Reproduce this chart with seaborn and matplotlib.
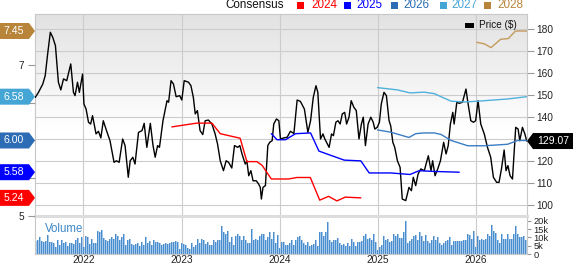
import numpy as np
import pandas as pd
import matplotlib
matplotlib.use("Agg")
import matplotlib.pyplot as plt
import matplotlib.transforms as mtransforms
from matplotlib.colors import LinearSegmentedColormap
from matplotlib.patches import Rectangle, Polygon
import seaborn as sns

# ---------------- data ----------------
price_dates = [
    "2021-07-06", "2021-07-18", "2021-08-03", "2021-08-12", "2021-08-21", "2021-08-31", "2021-09-09", "2021-09-19", "2021-09-30",
    "2021-10-09", "2021-10-19", "2021-10-31", "2021-11-15", "2021-11-25", "2021-12-01", "2021-12-10", "2021-12-17", "2021-12-29",
    "2022-01-03", "2022-01-11", "2022-01-20", "2022-01-28", "2022-02-04", "2022-02-17", "2022-02-26", "2022-03-07", "2022-03-16",
    "2022-03-28", "2022-04-10", "2022-04-25", "2022-05-04", "2022-05-14", "2022-05-27", "2022-06-05", "2022-06-17", "2022-06-24",
    "2022-07-04", "2022-07-12", "2022-07-25", "2022-08-07", "2022-08-15", "2022-08-25", "2022-09-07", "2022-09-17", "2022-09-25",
    "2022-10-04", "2022-10-11", "2022-10-24", "2022-11-08", "2022-11-14", "2022-11-23", "2022-12-02", "2022-12-12", "2022-12-25",
    "2023-01-02", "2023-01-11", "2023-01-27", "2023-02-05", "2023-02-14", "2023-02-21", "2023-03-01", "2023-03-11", "2023-03-21",
    "2023-03-30", "2023-04-11", "2023-04-24", "2023-05-06", "2023-05-15", "2023-05-25", "2023-06-06", "2023-06-16", "2023-06-25",
    "2023-07-07", "2023-07-17", "2023-07-29", "2023-08-06", "2023-08-14", "2023-08-26", "2023-09-01", "2023-09-08", "2023-09-16",
    "2023-09-24", "2023-10-06", "2023-10-15", "2023-10-21", "2023-10-25", "2023-10-31", "2023-11-09", "2023-11-18", "2023-11-25",
    "2023-12-04", "2023-12-10", "2023-12-20", "2023-12-29",
    "2024-01-04", "2024-01-17", "2024-01-29", "2024-02-10", "2024-02-23", "2024-03-06", "2024-03-18", "2024-04-02", "2024-04-15",
    "2024-04-25", "2024-05-05", "2024-05-15", "2024-05-22", "2024-06-01", "2024-06-10", "2024-06-17", "2024-07-03", "2024-07-12",
    "2024-07-19", "2024-07-28", "2024-08-05", "2024-08-13", "2024-08-21", "2024-08-30", "2024-09-06", "2024-09-15", "2024-09-23",
    "2024-10-03", "2024-10-12", "2024-10-22", "2024-10-31", "2024-11-07", "2024-11-15", "2024-11-25", "2024-12-05", "2024-12-14",
    "2024-12-20", "2024-12-29",
    "2025-01-06", "2025-01-13", "2025-01-23", "2025-02-01", "2025-02-11", "2025-02-17", "2025-02-25", "2025-03-04", "2025-03-14",
    "2025-03-24", "2025-04-01", "2025-04-14", "2025-04-26", "2025-05-05", "2025-05-12", "2025-05-21", "2025-05-30", "2025-06-09",
    "2025-06-22", "2025-07-07", "2025-07-17", "2025-07-23", "2025-08-01", "2025-08-11", "2025-08-21", "2025-09-02", "2025-09-11",
    "2025-09-19", "2025-09-27", "2025-10-06", "2025-10-11", "2025-10-21", "2025-10-30", "2025-11-11", "2025-11-24", "2025-12-02",
    "2025-12-12", "2025-12-22", "2025-12-30",
    "2026-01-08", "2026-01-18", "2026-01-31", "2026-02-12", "2026-02-24", "2026-03-06", "2026-03-18", "2026-03-27", "2026-04-05",
    "2026-04-15", "2026-04-22", "2026-04-29", "2026-05-07", "2026-05-16", "2026-05-28", "2026-06-06", "2026-06-12", "2026-06-22",
    "2026-07-01", "2026-07-08",
]
price_values = [
    148.9, 151.2, 155.0, 158.8, 168.6, 178.5, 176.2, 172.4, 155.8,
    152.3, 157.3, 156.5, 164.1, 151.2, 149.7, 155.8, 151.2, 159.5,
    145.9, 143.6, 137.6, 136.8, 140.6, 132.3, 133.5, 130.5, 138.3,
    133.8, 129.2, 119.4, 120.1, 119.4, 130.0, 127.0, 112.6, 120.1,
    121.7, 118.6, 133.0, 133.8, 137.1, 126.2, 137.1, 127.0, 121.7,
    127.0, 126.2, 138.3, 147.4, 146.7, 156.5, 155.0, 149.2, 149.7,
    147.7, 156.5, 155.8, 154.2, 148.9, 141.4, 142.9, 133.8, 132.0,
    138.3, 138.6, 136.8, 132.3, 127.7, 120.1, 115.6, 120.1, 119.4,
    116.8, 127.0, 126.2, 127.0, 123.2, 118.6, 120.1, 113.3, 115.6,
    111.0, 111.0, 109.5, 108.0, 102.7, 108.0, 108.8, 127.0, 128.5,
    129.2, 136.8, 139.1, 138.3,
    130.0, 130.5, 130.8, 133.5, 132.5, 147.7, 147.1, 143.6, 133.0,
    138.3, 148.9, 154.2, 151.2, 130.0, 132.3, 130.0, 126.2, 132.3,
    131.5, 137.6, 138.3, 136.8, 141.4, 142.1, 136.8, 139.9, 147.4,
    144.4, 142.9, 130.0, 136.8, 139.9, 127.0, 136.8, 139.9, 137.6,
    134.5, 135.3,
    137.6, 145.9, 151.2, 149.7, 138.3, 136.0, 128.5, 126.2, 120.1,
    117.1, 102.7, 102.0, 108.0, 106.5, 112.6, 108.8, 114.1, 116.4,
    115.6, 122.4, 115.6, 120.1, 113.3, 116.4, 120.1, 128.5, 123.2,
    127.0, 136.8, 142.1, 136.8, 146.7, 146.2, 146.7, 152.7, 145.9,
    138.3, 137.6, 138.3,
    147.4, 136.8, 132.3, 126.2, 121.7, 112.6, 110.3, 110.3, 116.4,
    125.0, 115.6, 117.9, 113.3, 111.8, 135.3, 134.5, 129.2, 135.3,
    132.3, 129.07,
]

eps24_dates = ["2022-11-26", "2023-02-27", "2023-04-24", "2023-05-25", "2023-07-01", "2023-08-07", "2023-09-01", "2023-10-08",
               "2023-10-28", "2023-12-01", "2024-02-03", "2024-03-05", "2024-04-24", "2024-05-29", "2024-07-01", "2024-08-01",
               "2024-09-01", "2024-10-29"]
eps24 = [6.18, 6.23, 6.23, 6.09, 6.06, 6.03, 5.72, 5.72, 5.67, 5.49, 5.49, 5.51, 5.51, 5.21, 5.26, 5.20, 5.25, 5.24]

eps25_dates = ["2023-12-01", "2023-12-22", "2024-01-23", "2024-02-29", "2024-04-25", "2024-05-26", "2024-06-26", "2024-08-28",
               "2024-10-29", "2024-11-29", "2025-02-17", "2025-04-30", "2025-06-03", "2025-07-30", "2025-10-30"]
eps25 = [6.09, 6.01, 6.01, 6.09, 6.10, 5.86, 5.82, 5.74, 5.73, 5.57, 5.57, 5.55, 5.60, 5.59, 5.58]

eps26_dates = ["2024-12-30", "2025-02-17", "2025-04-26", "2025-05-21", "2025-06-21", "2025-07-30", "2025-08-23", "2025-09-30",
               "2025-12-01", "2026-01-31", "2026-04-28", "2026-06-04", "2026-07-08"]
eps26 = [6.14, 6.11, 6.04, 6.09, 6.10, 6.10, 6.08, 6.00, 5.93, 5.93, 5.95, 6.00, 6.00]

eps27_dates = ["2024-12-30", "2025-03-14", "2025-04-30", "2025-06-21", "2025-07-30", "2025-08-23", "2025-09-30", "2025-11-18",
               "2026-01-07", "2026-04-28", "2026-07-08"]
eps27 = [6.70, 6.67, 6.63, 6.64, 6.62, 6.58, 6.52, 6.51, 6.52, 6.55, 6.58]

eps28_dates = ["2026-01-03", "2026-01-31", "2026-02-25", "2026-04-02", "2026-05-01", "2026-05-27", "2026-07-08"]
eps28 = [7.30, 7.28, 7.23, 7.34, 7.35, 7.45, 7.45]

# weekly volume (thousands)
vol_2021 = [7.6, 8.2, 10.2, 7.6, 7.0, 7.6, 11.6, 7.0, 7.0, 6.6, 4.2, 8.6, 5.6, 8.2, 6.6, 7.0, 5.0, 6.6, 6.6, 5.8, 8.2, 9.8, 6.6,
            10.2, 4.2]
vol_2022 = [10.6, 10.2, 6.2, 9.0, 6.6, 6.6, 13.6, 13.0, 14.6, 9.6, 8.6, 7.6, 9.0, 10.2, 9.0, 12.2, 11.0, 8.2, 10.2, 12.2, 5.4,
            8.6, 9.0, 6.2, 5.6, 6.2, 6.6, 5.0, 7.0, 5.6, 10.2, 6.6, 7.6, 5.6, 8.6, 7.0, 7.0, 6.6, 5.4, 6.2, 6.6, 5.8, 6.6, 7.0,
            7.4, 7.6, 7.0, 3.0, 6.6]
vol_2023 = [6.2, 5.6, 3.6, 3.0, 6.6, 4.2, 5.6, 9.0, 6.6, 9.0, 8.6, 5.8, 7.0, 5.4, 5.6, 8.6, 7.0, 8.2, 8.2, 16.6, 13.0, 12.2,
            13.6, 7.0, 10.2, 5.6, 10.6, 12.2, 11.0, 8.6, 10.6, 8.2, 6.6, 6.6, 15.0, 8.2, 9.0, 8.2, 11.0, 12.2, 12.2, 8.6, 10.2,
            13.0, 9.0, 13.0, 6.6, 11.6, 3.6]
vol_2024 = [7.0, 7.0, 5.6, 5.6, 6.6, 8.2, 5.6, 8.2, 10.2, 10.6, 8.6, 6.6, 5.6, 7.0, 5.0, 5.6, 6.2, 8.2, 4.6, 13.0, 13.0, 10.6,
            13.0, 19.0, 8.2, 7.0, 8.2, 8.6, 9.6, 6.6, 5.6, 6.2, 5.0, 6.6, 5.0, 9.0, 7.0, 5.0, 7.0, 7.4, 7.6, 10.6, 12.2, 9.0,
            9.6, 8.2, 12.2, 7.0, 2.6]
vol_2025 = [4.2, 5.6, 11.0, 8.6, 9.0, 7.0, 7.6, 12.2, 10.6, 12.2, 9.6, 9.6, 13.0, 19.6, 6.6, 7.6, 9.0, 10.6, 11.6, 8.6, 13.0,
            10.6, 7.6, 11.6, 7.6, 6.6, 8.6, 10.6, 8.2, 10.2, 6.6, 5.6, 6.6, 7.6, 8.6, 10.2, 5.6, 7.6, 7.6, 7.6, 7.6, 7.6, 8.2,
            8.6, 12.2, 11.6, 9.0, 13.6, 4.2]
vol_2026 = [11.0, 8.6, 9.0, 8.6, 9.0, 12.2, 10.6, 17.6, 13.6, 12.6, 8.6, 6.6, 12.2, 9.0, 9.0, 12.2, 9.0, 9.0, 12.2, 17.0, 12.2,
            10.2, 10.2, 11.0, 8.2]

years = ["2022", "2023", "2024", "2025", "2026"]
price_ticks = [100, 110, 120, 130, 140, 150, 160, 170, 180]
price_tick_labels = ["100", "110", "120", "", "140", "150", "160", "170", "180"]   # 130 sits under the last-price flag
eps_ticks = [5, 5.5, 6, 6.5, 7]
eps_tick_labels = ["5", "", "", "", "7"]   # the others sit under the consensus flags
vol_ticks = [0, 5000, 10000, 15000, 20000]
vol_tick_labels = ["0", "5k", "10k", "15k", "20k"]
last_price = 129.07
legend_years = ["2024", "2025", "2026", "2027", "2028"]

# ---------------- style ----------------
C24, C25, C26, C27, C28 = "#ff0000", "#0000ff", "#2b6cb4", "#45a5d5", "#b8843a"
L26, L27, L28 = "#3a7cc4", "#4fb0dc", "#c59a5c"

sns.set_style("white")
plt.rcParams["font.family"] = ["Liberation Sans", "DejaVu Sans"]

W, H = 573, 264
fig = plt.figure(figsize=(W / 100, H / 100), dpi=100)


def fx(px):
    return px / W


def fy(py):
    return 1 - py / H


Lp, Rp, Tp, Bp = 35, 527, 14, 216
Tv, Bv = 218, 254

# gradient background
bg = fig.add_axes([fx(Lp), fy(Bp), (Rp - Lp) / W, (Bp - Tp) / H], zorder=-1)
cmap = LinearSegmentedColormap.from_list("bg", [(0, "#ffffff"), (0.43, "#ffffff"), (1.0, "#e2e2e2")])
bg.imshow(np.linspace(0, 1, 256)[:, None], extent=[0, 1, 0, 1], cmap=cmap, aspect="auto", origin="lower")
bg.axis("off")

ax = fig.add_axes([fx(Lp), fy(Bp), (Rp - Lp) / W, (Bp - Tp) / H])
ax.patch.set_visible(False)
axv = fig.add_axes([fx(Lp), fy(Bv), (Rp - Lp) / W, (Bv - Tv) / H])

xmin, xmax = pd.Timestamp("2021-07-05"), pd.Timestamp("2026-07-09")
year_ticks = pd.to_datetime([y + "-01-01" for y in years])

# price
sns.lineplot(x=pd.to_datetime(price_dates), y=price_values, ax=ax, color="black", linewidth=1.0, zorder=3)

# consensus EPS (twin axis, left side)
axe = ax.twinx()
for d, v, c in [(eps24_dates, eps24, C24), (eps25_dates, eps25, C25), (eps26_dates, eps26, L26),
                (eps27_dates, eps27, L27), (eps28_dates, eps28, L28)]:
    sns.lineplot(x=pd.to_datetime(d), y=v, ax=axe, color=c, linewidth=1.0)

ax.set_xlim(xmin, xmax)
ax.set_ylim(95, 186.8)
ax.yaxis.set_ticks_position("right")
ax.yaxis.set_label_position("right")
ax.set_yticks(price_ticks)
ax.set_yticklabels(price_tick_labels)
ax.set_xticks(year_ticks)
ax.tick_params(axis="x", length=0, labelbottom=False)
ax.tick_params(axis="y", right=True, left=False, labelright=True, labelleft=False, length=5, width=0.8,
               color="#999999", labelsize=7.3, labelcolor="#222222", pad=1.5)
ax.grid(True, color="#cccccc", linewidth=0.8)
ax.set_axisbelow(True)
ax.set_xlabel("")
ax.set_ylabel("")
for s in ax.spines.values():
    s.set_color("#c8c8c8")
    s.set_linewidth(0.8)
ax.spines["bottom"].set_color("#dddddd")
ax.spines["bottom"].set_linewidth(2.2)

axe.set_xlim(xmin, xmax)
axe.set_ylim(5.0, 7.675)
axe.yaxis.set_ticks_position("left")
axe.yaxis.set_label_position("left")
axe.set_yticks(eps_ticks)
axe.set_yticklabels(eps_tick_labels)
axe.tick_params(axis="y", left=True, right=False, labelleft=True, labelright=False, length=5, width=0.8,
                color="#999999", labelsize=7.3, labelcolor="#222222", pad=2.5)
axe.set_xlabel("")
axe.set_ylabel("")
for s in axe.spines.values():
    s.set_visible(False)

# volume
vol_k = np.array(vol_2021 + vol_2022 + vol_2023 + vol_2024 + vol_2025 + vol_2026)
vol_dates = pd.date_range("2021-07-08", "2026-07-05", periods=len(vol_k))
step = (vol_dates[1] - vol_dates[0]).total_seconds() / 86400
axv.bar(vol_dates, vol_k * 1000, width=step, color="#a6c9eb", linewidth=0, align="center")
axv.bar(vol_dates - pd.Timedelta(days=step / 2), vol_k * 1000, width=step * 0.5, color="#4a8dcd",
        linewidth=0, align="edge")
axv.set_xlim(xmin, xmax)
axv.set_ylim(0, 21700)
axv.yaxis.tick_right()
axv.set_yticks(vol_ticks)
axv.set_yticklabels(vol_tick_labels)
axv.set_xticks(year_ticks)
axv.set_xticklabels(years)
axv.tick_params(axis="x", length=0, labelsize=7.3, labelcolor="#222222", pad=0.8)
axv.tick_params(axis="y", right=True, left=False, length=3, width=0.8, color="#999999", labelsize=6.7,
                labelcolor="#222222", pad=1.5)
axv.grid(True, axis="x", color="#cccccc", linewidth=0.8)
axv.grid(False, axis="y")
axv.set_axisbelow(True)
for s in axv.spines.values():
    s.set_color("#c8c8c8")
    s.set_linewidth(0.8)
axv.spines["top"].set_visible(False)
fig.text(fx(45), fy(229), "Volume", color="#3d88c8", fontsize=8.3, ha="left", va="center")

# top legend
fig.text(fx(225), fy(5.5), "Consensus", color="#111111", fontsize=8.4, ha="left", va="center")
sq_x = [297, 344, 391, 440, 484]
tx_x = [311, 356, 403, 451, 497]
for yr, c, sx, tx in zip(legend_years, [C24, C25, C26, C27, C28], sq_x, tx_x):
    fig.add_artist(Rectangle((fx(sx), fy(9)), 7 / W, 7 / H, transform=fig.transFigure, color=c, lw=0))
    fig.text(fx(tx), fy(5.5), yr, color=c, fontsize=8.4, ha="left", va="center")

# price legend inside
fig.add_artist(Rectangle((fx(465), fy(27.5)), 9 / W, 5 / H, transform=fig.transFigure, color="black", lw=0))
fig.text(fx(479), fy(25.5), "Price ($)", color="#111111", fontsize=7.2, ha="left", va="center")

# value flags
fig.canvas.draw()
ident = mtransforms.IdentityTransform()
for val, c in [(eps28[-1], C28), (eps27[-1], C27), (eps26[-1], C26), (eps25[-1], C25), (eps24[-1], C24)]:
    yc = axe.transData.transform((0, val))[1]
    poly = Polygon([(0, yc - 8), (29, yc - 8), (35, yc), (29, yc + 8), (0, yc + 8)], closed=True,
                   transform=ident, facecolor=c, edgecolor="none", zorder=20)
    fig.add_artist(poly)
    fig.text(fx(14), yc / H, f"{val:.2f}", color="white", fontsize=7.6, ha="center", va="center", zorder=21)

yc = ax.transData.transform((0, last_price))[1]
poly = Polygon([(527, yc), (533, yc - 8), (573, yc - 8), (573, yc + 8), (533, yc + 8)], closed=True,
               transform=ident, facecolor="black", edgecolor="none", zorder=20)
fig.add_artist(poly)
fig.text(fx(553), yc / H, f"{last_price:.2f}", color="white", fontsize=7.5, ha="center", va="center", zorder=21)

fig.savefig("out.png", dpi=100)
